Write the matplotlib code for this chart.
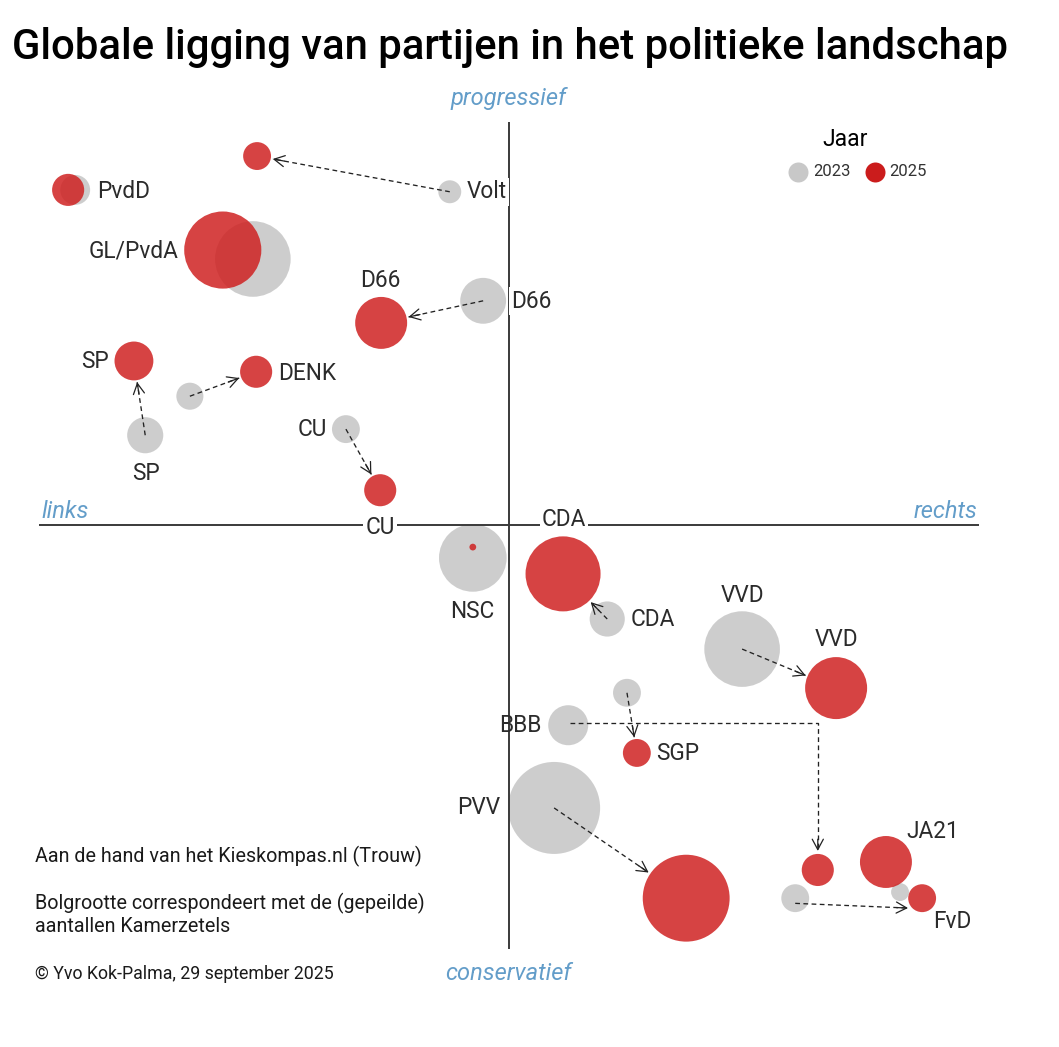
import numpy as np
import matplotlib
matplotlib.use("Agg")
import matplotlib.pyplot as plt
from matplotlib.patches import FancyArrowPatch

plt.rcParams['font.family'] = ['Roboto', 'DejaVu Sans']

W, H = 1059, 1047
ORIGIN_X, ORIGIN_Y, PX_PER_UNIT = 509, 525, 47.0

parties = ['Volt', 'PvdD', 'GL/PvdA', 'D66', 'SP', 'DENK', 'CU', 'NSC', 'CDA', 'VVD', 'SGP', 'BBB', 'PVV', 'FvD', 'JA21']
x_2023 = [-1.26, -9.23, -5.45, -0.55, -7.74, -6.79, -3.47, -0.77, 2.09, 4.96, 2.51, 1.26, 0.96, 6.09, 8.32]
y_2023 = [7.09, 7.13, 5.66, 4.77, 1.91, 2.74, 2.04, -0.70, -2.00, -2.64, -3.57, -4.26, -6.02, -7.94, -7.81]
seats_2023 = [2.3, 3.9, 25, 9.2, 5.7, 3.2, 3.4, 20, 5.4, 25, 3.4, 7, 37, 3.4, 1.4]
x_2025 = [-5.36, -9.38, -6.09, -2.72, -7.98, -5.38, -2.74, -0.77, 1.15, 6.96, 2.72, 6.57, 3.77, 8.79, 8.02]
y_2025 = [7.85, 7.13, 5.85, 4.30, 3.49, 3.26, 0.74, -0.47, -1.04, -3.47, -4.85, -7.34, -7.94, -7.94, -7.17]
seats_2025 = [3.4, 4.5, 26, 11.8, 6.6, 4.5, 4.5, 0.2, 24.6, 16.8, 3.4, 4.5, 33, 3.4, 11.8]
straight_arrows = ['Volt', 'D66', 'SP', 'DENK', 'CU', 'CDA', 'VVD', 'SGP', 'PVV', 'FvD']

# label text, pixel position of its centre, white background?
labels = [
    ('PvdD', 124, 191, False), ('Volt', 487, 191, True), ('GL/PvdA', 134, 250, False),
    ('D66', 380, 279, False), ('D66', 531, 300, True), ('SP', 95, 361, False),
    ('DENK', 307, 373, False), ('SP', 146, 472, False), ('CU', 312, 429, False),
    ('CU', 380, 526, True), ('CDA', 564, 518, True), ('NSC', 472, 611, False),
    ('CDA', 653, 619, False), ('VVD', 742, 594, False), ('VVD', 836, 639, False),
    ('BBB', 520, 725, False), ('SGP', 678, 753, False), ('PVV', 479, 807, False),
    ('JA21', 933, 830, False), ('FvD', 952, 921, False),
]
direction_labels = [('progressief', 508, 97), ('links', 65, 510), ('rechts', 946, 510), ('conservatief', 508, 972)]
notes = [
    ('Aan de hand van het Kieskompas.nl (Trouw)', 35, 855, 14.2),
    ('Bolgrootte correspondeert met de (gepeilde)', 35, 902, 14.2),
    ('aantallen Kamerzetels', 35, 926, 14.2),
    ('\u00a9 Yvo Kok-Palma, 29 september 2025', 35, 973, 12.8),
]

GRAY = '#cbcbcb'
RED = '#cf1f1f'
BLUE = '#639dc9'
DARK = '#2b2b2b'

fig = plt.figure(figsize=(W / 100, H / 100), dpi=100)
ax = fig.add_axes([0, 0, 1, 1])
ax.set_xlim(-ORIGIN_X / PX_PER_UNIT, (W - ORIGIN_X) / PX_PER_UNIT)
ax.set_ylim(-(H - ORIGIN_Y) / PX_PER_UNIT, ORIGIN_Y / PX_PER_UNIT)
ax.axis('off')


def fx(px):
    return px / W


def fy(py):
    return 1 - (py + 1) / H


def radius_units(seats):
    return 7.56 * np.sqrt(seats) / PX_PER_UNIT


def area(seats):
    return 118.6 * np.asarray(seats, dtype=float)


# axes cross
ax.plot([-10, 10], [0, 0], color='#3a3a3a', lw=1.4, zorder=3, solid_capstyle='butt')
ax.plot([0, 0], [-9.02, 8.57], color='#3a3a3a', lw=1.4, zorder=3, solid_capstyle='butt')

# bubbles
ax.scatter(x_2023, y_2023, s=area(seats_2023), color=GRAY, alpha=0.95, linewidths=0, zorder=2)
ax.scatter(x_2025, y_2025, s=area(seats_2025), color=RED, alpha=0.84, linewidths=0, zorder=2.5)

DASH = (0, (3.6, 2.6))


def head(p0, p1):
    ax.add_patch(FancyArrowPatch(p0, p1, arrowstyle='->,head_length=7.5,head_width=4',
                                 mutation_scale=1, lw=0.9, color='#222222',
                                 shrinkA=0, shrinkB=0, zorder=5))


for name in straight_arrows:
    i = parties.index(name)
    a = np.array([x_2023[i], y_2023[i]])
    b = np.array([x_2025[i], y_2025[i]])
    u = (b - a) / np.hypot(*(b - a))
    end = b - u * (radius_units(seats_2025[i]) + 2 / PX_PER_UNIT)
    if name == 'FvD':
        # this arrow runs below the centres of both bubbles
        a = a + np.array([0.0, -0.11])
        end = b + np.array([-0.30, -0.21])
        u = (end - a) / np.hypot(*(end - a))
    ax.plot([a[0], end[0]], [a[1], end[1]], color='#222222', lw=0.95, ls=DASH, zorder=4)
    head(end - u * 0.25, end)

# BBB: elbow arrow
i = parties.index('BBB')
x0 = x_2023[i] + 0.04
y0 = y_2023[i] + 0.05
end_y = y_2025[i] + radius_units(seats_2025[i]) + 3 / PX_PER_UNIT
ax.plot([x0, x_2025[i], x_2025[i]], [y0, y0, end_y], color='#222222', lw=0.95, ls=DASH, zorder=4)
head((x_2025[i], end_y + 0.25), (x_2025[i], end_y))

# labels
for txt, px, py, box in labels:
    kw = {}
    if box:
        kw['bbox'] = dict(facecolor='white', edgecolor='none', pad=1.5)
    ax.text(fx(px), fy(py), txt, transform=ax.transAxes, ha='center', va='center',
            fontsize=16.3, color=DARK, zorder=6, **kw)

for txt, px, py in direction_labels:
    ax.text(fx(px), fy(py), txt, transform=ax.transAxes, ha='center', va='center',
            fontsize=17, style='italic', color=BLUE, zorder=6)

for txt, px, py, fs in notes:
    ax.text(fx(px), fy(py), txt, transform=ax.transAxes, ha='left', va='center',
            fontsize=fs, color='#1a1a1a', zorder=6)

# title
ax.text(fx(510), fy(47), 'Globale ligging van partijen in het politieke landschap',
        transform=ax.transAxes, ha='center', va='center', fontsize=30.2,
        fontweight='medium', color='black', zorder=6)

# legend
ax.text(fx(845), fy(138), 'Jaar', transform=ax.transAxes, ha='center', va='center', fontsize=16.5, color='black')
ax.scatter([fx(798)], [fy(171)], s=(20 * 0.72) ** 2, color='#c8c8c8', linewidths=0, transform=ax.transAxes)
ax.scatter([fx(875)], [fy(171)], s=(20 * 0.72) ** 2, color='#cb1c1c', linewidths=0, transform=ax.transAxes)
ax.text(fx(813), fy(171), '2023', transform=ax.transAxes, ha='left', va='center', fontsize=12, color='#333333')
ax.text(fx(889), fy(171), '2025', transform=ax.transAxes, ha='left', va='center', fontsize=12, color='#333333')

fig.savefig('out.png', dpi=100, facecolor='white')
